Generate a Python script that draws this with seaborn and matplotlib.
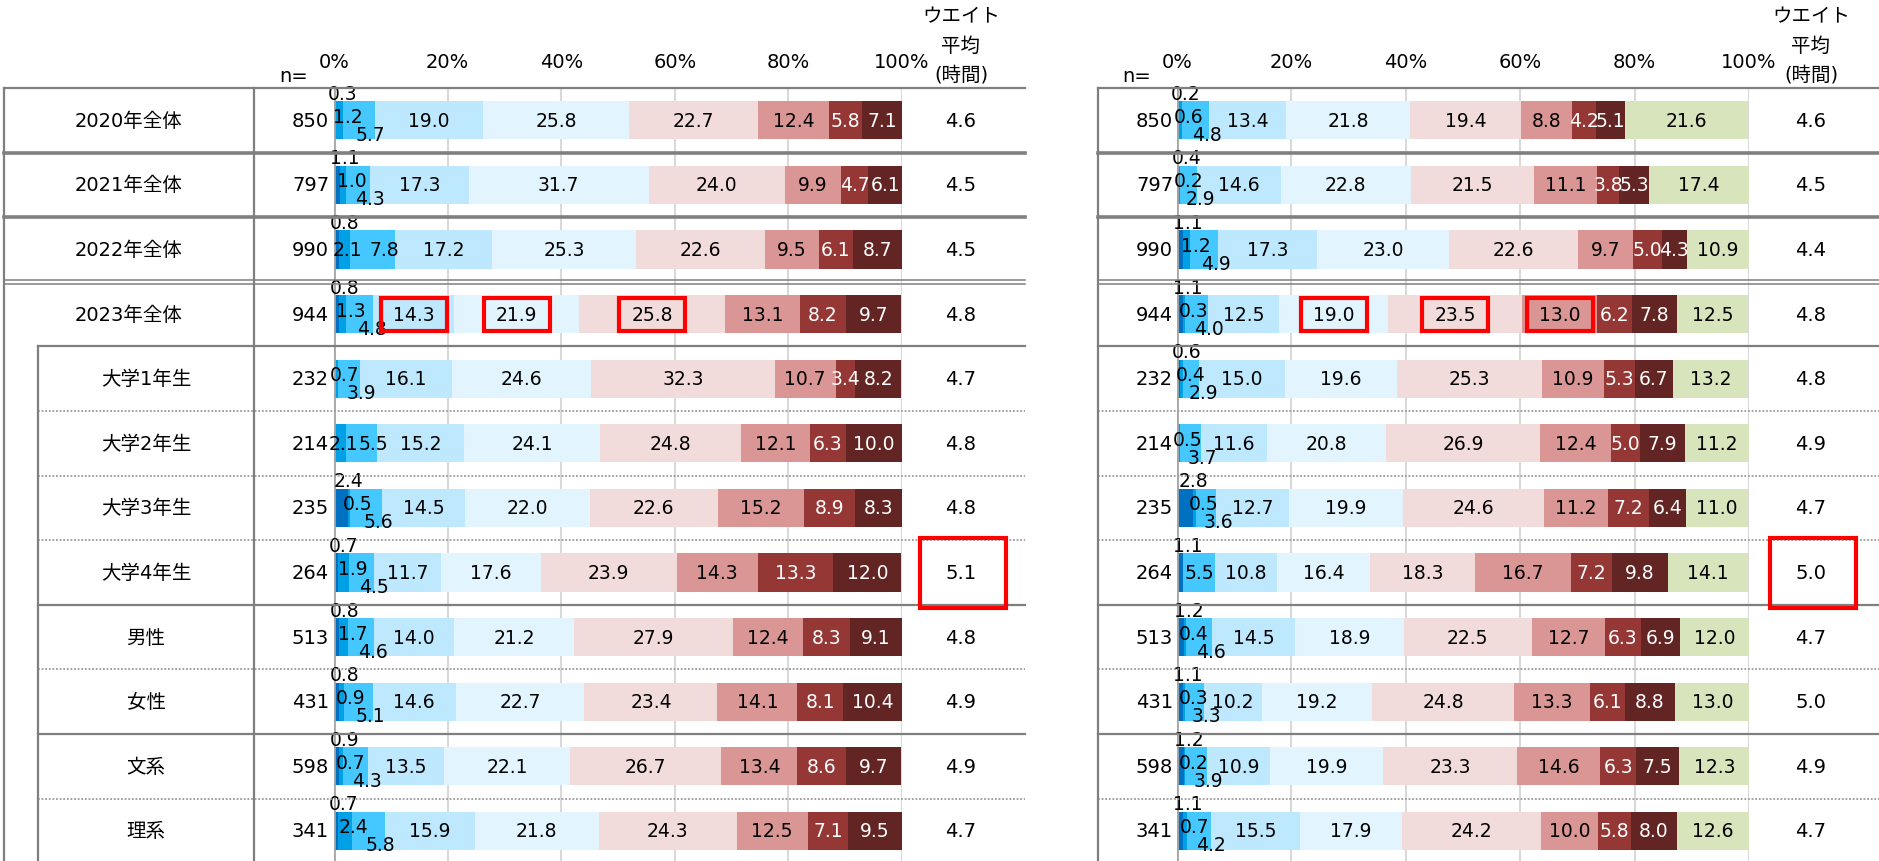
import numpy as np
import pandas as pd
import matplotlib
matplotlib.use("Agg")
import matplotlib.pyplot as plt
import seaborn as sns
from matplotlib.patches import Rectangle
from matplotlib.lines import Line2D

# ---------------- data ----------------
categories = ['2020年全体', '2021年全体', '2022年全体', '2023年全体',
              '大学1年生', '大学2年生', '大学3年生', '大学4年生',
              '男性', '女性', '文系', '理系']
n_values = [850, 797, 990, 944, 232, 214, 235, 264, 513, 431, 598, 341]

left_values = [
    [0.3, 1.2, 5.7, 19.0, 25.8, 22.7, 12.4, 5.8, 7.1],
    [1.1, 1.0, 4.3, 17.3, 31.7, 24.0, 9.9, 4.7, 6.1],
    [0.8, 2.1, 7.8, 17.2, 25.3, 22.6, 9.5, 6.1, 8.7],
    [0.8, 1.3, 4.8, 14.3, 21.9, 25.8, 13.1, 8.2, 9.7],
    [0.0, 0.7, 3.9, 16.1, 24.6, 32.3, 10.7, 3.4, 8.2],
    [0.0, 2.1, 5.5, 15.2, 24.1, 24.8, 12.1, 6.3, 10.0],
    [2.4, 0.5, 5.6, 14.5, 22.0, 22.6, 15.2, 8.9, 8.3],
    [0.7, 1.9, 4.5, 11.7, 17.6, 23.9, 14.3, 13.3, 12.0],
    [0.8, 1.7, 4.6, 14.0, 21.2, 27.9, 12.4, 8.3, 9.1],
    [0.8, 0.9, 5.1, 14.6, 22.7, 23.4, 14.1, 8.1, 10.4],
    [0.9, 0.7, 4.3, 13.5, 22.1, 26.7, 13.4, 8.6, 9.7],
    [0.7, 2.4, 5.8, 15.9, 21.8, 24.3, 12.5, 7.1, 9.5],
]
right_values = [
    [0.2, 0.6, 4.8, 13.4, 21.8, 19.4, 8.8, 4.2, 5.1, 21.6],
    [0.4, 0.2, 2.9, 14.6, 22.8, 21.5, 11.1, 3.8, 5.3, 17.4],
    [1.1, 1.2, 4.9, 17.3, 23.0, 22.6, 9.7, 5.0, 4.3, 10.9],
    [1.1, 0.3, 4.0, 12.5, 19.0, 23.5, 13.0, 6.2, 7.8, 12.5],
    [0.6, 0.4, 2.9, 15.0, 19.6, 25.3, 10.9, 5.3, 6.7, 13.2],
    [0.0, 0.5, 3.7, 11.6, 20.8, 26.9, 12.4, 5.0, 7.9, 11.2],
    [2.8, 0.5, 3.6, 12.7, 19.9, 24.6, 11.2, 7.2, 6.4, 11.0],
    [1.1, 0.0, 5.5, 10.8, 16.4, 18.3, 16.7, 7.2, 9.8, 14.1],
    [1.2, 0.4, 4.6, 14.5, 18.9, 22.5, 12.7, 6.3, 6.9, 12.0],
    [1.1, 0.3, 3.3, 10.2, 19.2, 24.8, 13.3, 6.1, 8.8, 13.0],
    [1.2, 0.2, 3.9, 10.9, 19.9, 23.3, 14.6, 6.3, 7.5, 12.3],
    [1.1, 0.7, 4.2, 15.5, 17.9, 24.2, 10.0, 5.8, 8.0, 12.6],
]
left_avg = [4.6, 4.5, 4.5, 4.8, 4.7, 4.8, 4.8, 5.1, 4.8, 4.9, 4.9, 4.7]
right_avg = [4.6, 4.5, 4.4, 4.8, 4.8, 4.9, 4.7, 5.0, 4.7, 5.0, 4.9, 4.7]
tick_values = [0, 20, 40, 60, 80, 100]
tick_labels = ['0%', '20%', '40%', '60%', '80%', '100%']
header_lines = ['ウエイト', '平均', '(時間)']
left_highlight = [(3, 3), (3, 4), (3, 5)]
right_highlight = [(3, 4), (3, 5), (3, 6)]
avg_highlight_row = 7

seg_colors = ['#0070C0', '#00A0E6', '#45C8FF', '#BDE8FD', '#E2F4FD',
              '#F2DCDB', '#DA9694', '#953735', '#632523', '#D8E4BC']
white_text_segs = {7, 8}

# ---------------- layout ----------------
W, H = 1879, 862
ROW_TOP = 89.0
ROW_H = 64.6
NROW = len(categories)

plt.rcParams['font.family'] = ['DejaVu Sans', 'Noto Sans CJK JP']

fig = plt.figure(figsize=(W / 100, H / 100), dpi=100)
fig.patch.set_facecolor('white')


def fx(px):
    return px / W


def fy(py):
    return 1 - py / H


def row_center(i):
    return ROW_TOP + ROW_H * (i + 0.5)


LINE_C = '#7F7F7F'


def hline(y, x0, x1, lw=1.5, ls='-', color=LINE_C):
    fig.add_artist(Line2D([fx(x0), fx(x1)], [fy(y), fy(y)], lw=lw, ls=ls,
                          color=color, transform=fig.transFigure, zorder=5))


def vline(x, y0, y1, lw=1.5, color=LINE_C):
    fig.add_artist(Line2D([fx(x), fx(x)], [fy(y0), fy(y1)], lw=lw,
                          color=color, transform=fig.transFigure, zorder=5))


panels = [
    dict(values=left_values, avg=left_avg, highlight=left_highlight,
         ax_l=334, ax_r=902, n_x=329, avg_x=961, nlabel_x=294,
         line_l=4, line_r=1025, sub_l=38, has_cat=True),
    dict(values=right_values, avg=right_avg, highlight=right_highlight,
         ax_l=1177, ax_r=1749, n_x=1173, avg_x=1811, nlabel_x=1137,
         line_l=1098, line_r=1879, sub_l=1098, has_cat=False),
]

BAR_W = 0.59
LABEL_FS = 13.5
TEXT_FS = 14

for p in panels:
    vals = np.array(p['values'])
    nseg = vals.shape[1]
    cum = np.cumsum(vals, axis=1)
    ax_h = ROW_H * NROW
    ax = fig.add_axes([fx(p['ax_l']), fy(ROW_TOP + ax_h),
                       fx(p['ax_r']) - fx(p['ax_l']), ax_h / H])
    ax.set_facecolor('none')

    # stacked bars: draw cumulative totals from the outermost segment inwards
    for k in reversed(range(nseg)):
        df = pd.DataFrame({'cat': categories, 'cum': cum[:, k]})
        sns.barplot(data=df, y='cat', x='cum', orient='h', order=categories,
                    color=seg_colors[k], saturation=1, width=BAR_W,
                    errorbar=None, linewidth=0, ax=ax, zorder=2)

    ax.set_xlim(0, 100)
    ax.set_ylim(NROW - 0.5, -0.5)
    ax.set_xlabel('')
    ax.set_ylabel('')
    ax.set_yticks([])
    for s in ax.spines.values():
        s.set_visible(False)
    for t in tick_values[1:]:
        ax.axvline(t, color='#D9D9D9', lw=1.5, zorder=0)
    ax.axvline(0, color='#A6A6A6', lw=2, zorder=3)
    ax.xaxis.tick_top()
    ax.set_xticks(tick_values)
    ax.set_xticklabels(tick_labels)
    ax.tick_params(axis='x', length=0, pad=12.5, labelsize=TEXT_FS)

    # data labels
    for i in range(NROW):
        row = vals[i]
        stagger = (row[1] > 0) and (row[2] < 7) and not (row[0] == 0 and row[1] >= 1)
        for k in range(nseg):
            v = row[k]
            if v <= 0:
                continue
            xc = cum[i, k] - v / 2
            dx, dy = 0, 0
            if k == 0:
                dx, dy = 8, 27
            elif k == 1:
                dx, dy = (9, 4) if stagger else (3, 0)
            elif k == 2:
                if stagger:
                    dx, dy = 12, -14
                else:
                    dx, dy = (12 if row[1] > 0 else 0), 0
            col = 'white' if k in white_text_segs else 'black'
            ax.annotate(f'{v:.1f}', xy=(xc, i), xytext=(dx, dy),
                        textcoords='offset pixels', ha='center', va='center',
                        fontsize=LABEL_FS, color=col, zorder=6,
                        annotation_clip=False)

    # highlight boxes around labels
    px_per_unit = (p['ax_r'] - p['ax_l']) / 100
    for (i, k) in p['highlight']:
        xc = cum[i, k] - vals[i, k] / 2
        bw = 66 / px_per_unit
        bh = 33 / ROW_H
        ax.add_patch(Rectangle((xc - bw / 2, i - bh / 2), bw, bh, fill=False,
                               ec='#FF0000', lw=3, zorder=7, clip_on=False))

    # n column, averages
    fig.text(fx(p['nlabel_x']), fy(76), 'n=', ha='center', va='center',
             fontsize=TEXT_FS)
    for j, line in enumerate(header_lines):
        fig.text(fx(p['avg_x']), fy(17 + 29 * j), line, ha='center',
                 va='center', fontsize=TEXT_FS)
    for i in range(NROW):
        yc = row_center(i)
        fig.text(fx(p['n_x']), fy(yc), f'{n_values[i]}', ha='right',
                 va='center', fontsize=TEXT_FS)
        fig.text(fx(p['avg_x']), fy(yc), f'{p["avg"][i]:.1f}', ha='center',
                 va='center', fontsize=TEXT_FS)
        if p['has_cat']:
            cx = 129 if i < 4 else 146
            fig.text(fx(cx), fy(yc), categories[i], ha='center', va='center',
                     fontsize=TEXT_FS)

    # average highlight box
    yc = row_center(avg_highlight_row)
    fig.add_artist(Rectangle((fx(p['avg_x'] + 2 - 43), fy(yc + 35)),
                             86 / W, 70 / H, fill=False, ec='#FF0000', lw=3,
                             transform=fig.transFigure, zorder=7))

    # table lines
    L, R, S = p['line_l'], p['line_r'], p['sub_l']
    for b in range(NROW + 1):
        y = ROW_TOP + ROW_H * b
        x0 = L if b <= 3 else S
        if b == 0:
            hline(y, x0, R, lw=1.6)
        elif b in (1, 2):
            hline(y, x0, R, lw=2.6)
        elif b == 3:
            hline(y - 1.7, x0, R, lw=1.1)
            hline(y + 1.7, x0, R, lw=1.1)
        elif b in (4, 8, 10):
            hline(y, x0, R, lw=1.6)
        else:
            hline(y, x0, R, lw=1.3, ls=(0, (1, 1)), color='#9A9A9A')
    vline(L, ROW_TOP, H + 5, lw=1.6)
    if p['has_cat']:
        vline(254, ROW_TOP, H + 5, lw=1.6)
        vline(S, ROW_TOP + 4 * ROW_H, H + 5, lw=1.6)

fig.savefig('out.png', dpi=100, facecolor='white')
